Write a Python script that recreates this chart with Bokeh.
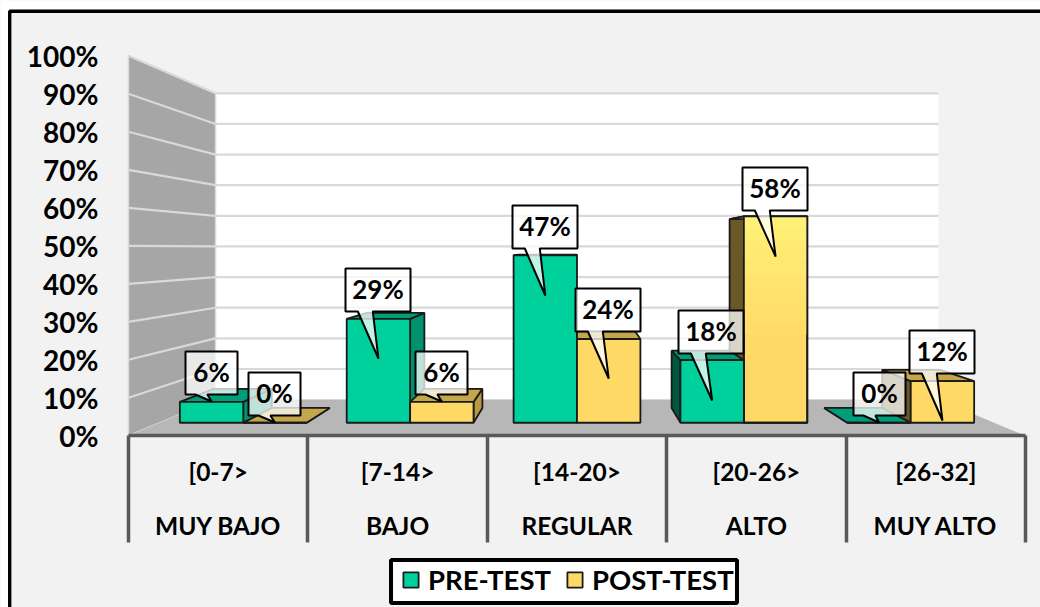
from bokeh.plotting import figure
from bokeh.models import (Range1d, FixedTicker, LinearAxis, PrintfTickFormatter,
                          Legend, LegendItem)
from bokeh.core.properties import value
from bokeh.embed import file_html
from bokeh.resources import INLINE

# ---------- data ----------
levels = ["MUY BAJO", "BAJO", "REGULAR", "ALTO", "MUY ALTO"]
intervals = ["[0-7>", "[7-14>", "[14-20>", "[20-26>", "[26-32]"]
pre_test = [5.9, 29.4, 47.4, 17.7, 0.0]
post_test = [0.0, 5.9, 23.7, 58.4, 11.8]
series_names = ["PRE-TEST", "POST-TEST"]
y_ticks = [0, 10, 20, 30, 40, 50, 60, 70, 80, 90, 100]

# ---------- layout (window pixels) ----------
W, H = 1040, 607
FIG_X, FIG_Y = 0, 0
CAT_PX = 179.4      # px per category on the front plane
VAL_PX = 3.8        # px per percent on the front plane
X0_PX, Y0_PX = 128.0, 435.3
FONT = "Lato"


def xp(px):
    return (px - X0_PX) / CAT_PX


def yp(py):
    return (Y0_PX - py) / VAL_PX


p = figure(width=W, height=H, output_backend="svg", toolbar_location=None,
           x_range=Range1d(xp(FIG_X), xp(FIG_X + W)),
           y_range=Range1d(yp(FIG_Y + H), yp(FIG_Y)),
           min_border=0, min_border_left=0, min_border_right=0,
           min_border_top=0, min_border_bottom=0,
           background_fill_color="#F2F2F2", border_fill_color="#F2F2F2",
           outline_line_color=None)
p.grid.visible = False

# ---------- perspective ----------
VX, VY = 2.5, 49.1   # vanishing point, in data units
SHRINK = 0.194       # size lost from front (d=0) to back wall (d=1)


def proj(x, d, v):
    s = 1 - SHRINK * d
    return VX + (x - VX) * s, VY + (v - VY) * s


def face(pts):
    a = [proj(*q) for q in pts]
    return [q[0] for q in a], [q[1] for q in a]


n = len(levels)
WALL = "#A6A6A6"
FLOOR = "#B7B7B7"
GRID = "#D9D9D9"

xs, ys = face([(0, 1, 0), (n, 1, 0), (n, 1, 100), (0, 1, 100)])
p.patch(xs, ys, fill_color="white", line_color=None)
xs, ys = face([(0, 0, 0), (0, 1, 0), (0, 1, 100), (0, 0, 100)])
p.patch(xs, ys, fill_color=WALL, line_color=GRID, line_width=1.5)
xs, ys = face([(0, 0, 0), (n, 0, 0), (n, 1, 0), (0, 1, 0)])
p.patch(xs, ys, fill_color=FLOOR, line_color=None)

gx, gy = [], []
for t in y_ticks[1:]:
    a, b = face([(0, 0, t), (0, 1, t), (n, 1, t)])
    gx.append(a)
    gy.append(b)
p.multi_line(gx, gy, line_color=GRID, line_width=2.2)

# ---------- bars ----------
BAR_W = 0.38
D0, D1 = 0.36, 0.77
OUT = "#1A1A1A"
STYLE = [
    dict(front="#00D09C", top="#009E78", right="#00916E", left="#00573F"),
    dict(front="#FFD966", top="#C4A64C", right="#B89A45", left="#6B5829"),
]
bars = []
for k in range(n):
    c = k + 0.5
    bars.append((c - BAR_W, c, pre_test[k], 0, k))
    bars.append((c, c + BAR_W, post_test[k], 1, k))
bars.sort(key=lambda b: -abs((b[0] + b[1]) / 2 - VX))


def sheen(t):
    # yellow front: #FFD966 low on the bar, paler yellow near the top
    g = round(0xD9 + (0xF0 - 0xD9) * t)
    b = round(0x66 + (0x78 - 0x66) * t)
    return f"#FF{g:02X}{b:02X}"


first_front = {}
for x0, x1, v, si, k in bars:
    st = STYLE[si]
    if x1 < VX:
        xs, ys = face([(x1, D0, 0), (x1, D1, 0), (x1, D1, v), (x1, D0, v)])
        p.patch(xs, ys, fill_color=st["right"], line_color=OUT, line_width=1.8)
    elif x0 > VX:
        xs, ys = face([(x0, D0, 0), (x0, D1, 0), (x0, D1, v), (x0, D0, v)])
        p.patch(xs, ys, fill_color=st["left"], line_color=OUT, line_width=1.8)
    xs, ys = face([(x0, D0, v), (x1, D0, v), (x1, D1, v), (x0, D1, v)])
    p.patch(xs, ys, fill_color=st["top"], line_color=OUT, line_width=1.8)
    xs, ys = face([(x0, D0, 0), (x1, D0, 0), (x1, D0, v), (x0, D0, v)])
    r = p.patch(xs, ys, fill_color=st["front"], line_color=OUT, line_width=1.8)
    first_front.setdefault(si, r)
    if si == 1 and v > 25:
        bands = 10
        for b in range(bands):
            lo = 25 + (v - 25) * b / bands
            hi = 25 + (v - 25) * (b + 1) / bands
            bx, by = face([(x0, D0, lo), (x1, D0, lo), (x1, D0, hi), (x0, D0, hi)])
            p.patch(bx, by, fill_color=sheen((b + 1) / bands), line_color=None)
        p.patch(xs, ys, fill_color=None, line_color=OUT, line_width=1.8)

# ---------- axes ----------
ya = p.yaxis[0]
ya.fixed_location = 0
ya.ticker = FixedTicker(ticks=y_ticks)
ya.formatter = PrintfTickFormatter(format="%d%%")
ya.axis_line_color = None
ya.major_tick_line_color = None
ya.minor_tick_line_color = None
ya.major_tick_out = 0
ya.major_tick_in = 0
ya.major_label_standoff = 30
ya.major_label_text_font = FONT
ya.major_label_text_font_style = "bold"
ya.major_label_text_font_size = "28px"
ya.major_label_text_color = "black"

mids = [k + 0.5 for k in range(n)]
bounds = list(range(n + 1))
xa = p.xaxis[0]
xa.fixed_location = 0
xa.bounds = (0, n)
xa.ticker = FixedTicker(ticks=bounds)
xa.major_label_text_color = None
xa.major_label_text_font_size = "1px"
xa.axis_line_color = "#595959"
xa.axis_line_width = 3.5
xa.major_tick_line_color = "#595959"
xa.major_tick_line_width = 3.5
xa.major_tick_out = 107
xa.major_tick_in = 0
xa.minor_tick_line_color = None

for names, off in ((intervals, 21), (levels, 75)):
    ax = LinearAxis(fixed_location=0, ticker=FixedTicker(ticks=mids),
                    major_label_overrides={m: s for m, s in zip(mids, names)},
                    axis_line_color=None, major_tick_line_color=None,
                    minor_tick_line_color=None, major_tick_out=0, major_tick_in=0,
                    major_label_standoff=off,
                    major_label_text_font=FONT, major_label_text_font_style="bold",
                    major_label_text_font_size="24.5px", major_label_text_color="black")
    p.add_layout(ax, "below")

# ---------- callouts ----------
BOX_H = 43
# (bar index order pre0, post0, pre1, ...): box left, box top, tip y in window px
CALLOUTS = [
    (185, 351, 401), (248, 372, 422),
    (345, 268, 358), (415, 351, 401),
    (512, 205, 295), (575, 288, 378),
    (678, 310, 400), (742, 167, 256),
    (853, 372, 422), (909, 330, 420),
]
vals = [v for pair in zip(pre_test, post_test) for v in pair]
for i, (left, top, tip_y) in enumerate(CALLOUTS):
    k, si = i // 2, i % 2
    label = f"{round(vals[i])}%"
    bw = 52 if len(label) == 2 else 65
    cx = k + 0.5 + (-BAR_W / 2 if si == 0 else BAR_W / 2)
    tip_x = proj(cx, D0, 0)[0]
    bot = top + BOX_H
    base0 = left + bw * 0.19
    base1 = left + bw * 0.42
    px_pts = [(left, top), (left + bw, top), (left + bw, bot), (base1, bot),
              (None, tip_y), (base0, bot), (left, bot)]
    bx = [tip_x if q[0] is None else xp(q[0]) for q in px_pts]
    by = [yp(q[1]) for q in px_pts]
    p.patch(bx, by, fill_color="white", fill_alpha=0.75, line_color="black", line_width=2)
    p.text([xp(left + bw / 2)], [yp(top + BOX_H / 2 - 1)], text=[label],
           text_font=value(FONT), text_font_style="bold", text_font_size="26px",
           text_color="black", text_align="center", text_baseline="middle")

# ---------- frame of the picture ----------
p.quad(left=[xp(0)], right=[xp(W)], top=[yp(0)], bottom=[yp(9)],
       fill_color="white", line_color=None)
p.quad(left=[xp(0)], right=[xp(8)], top=[yp(0)], bottom=[yp(H)],
       fill_color="white", line_color=None)
p.line([xp(9.2), xp(9.2), xp(W)], [yp(H), yp(10.7), yp(10.7)],
       line_color="black", line_width=3.4)

# ---------- legend: box drawn behind, native entries on top ----------
p.quad(left=[xp(390.5)], right=[xp(736.5)], top=[yp(559.5)], bottom=[yp(602.5)],
       fill_color="white", line_color="black", line_width=4)
legend = Legend(items=[LegendItem(label=series_names[i], renderers=[first_front[i]])
                       for i in range(2)],
                orientation="horizontal", location=(401, 11), margin=0,
                padding=3, spacing=14, glyph_width=19, glyph_height=19,
                label_standoff=8, label_height=19,
                background_fill_alpha=0, border_line_color=None,
                label_text_font=FONT, label_text_font_style="bold",
                label_text_font_size="27.5px", label_text_color="black")
p.add_layout(legend, "center")

open("out.html", "w").write(file_html(p, INLINE))
